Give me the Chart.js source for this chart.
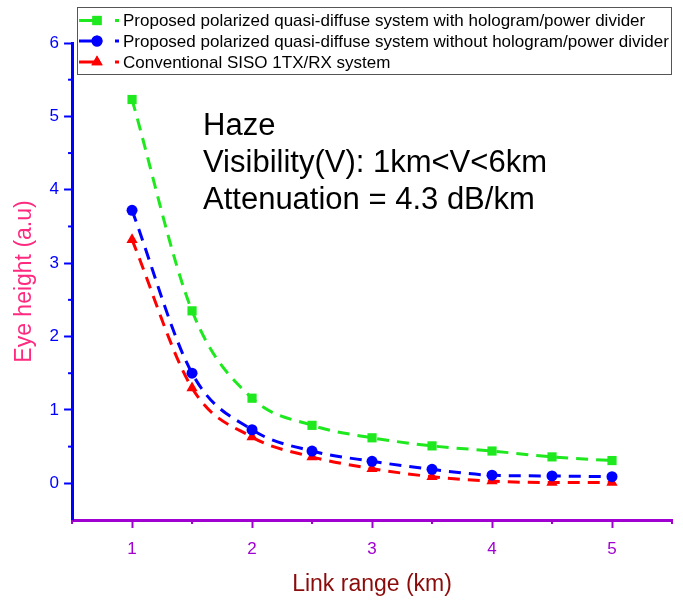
<!DOCTYPE html>
<html>
<head>
<meta charset="utf-8">
<script src="https://cdn.jsdelivr.net/npm/chart.js@4.4.0/dist/chart.umd.min.js"></script>
<style>
  html, body { margin: 0; padding: 0; background: #fff; }
  canvas { display: block; }
</style>
</head>
<body>
<canvas id="chart" width="683" height="602"></canvas>
<script>
  // Link range (km)
  const linkRange = [1, 1.5, 2, 2.5, 3, 3.5, 4, 4.5, 5];

  // Eye height (a.u)
  const withHologram    = [5.23, 2.35, 1.16, 0.79, 0.62, 0.51, 0.44, 0.36, 0.31];
  const withoutHologram = [3.72, 1.50, 0.73, 0.44, 0.30, 0.19, 0.11, 0.10, 0.09];
  const conventional    = [3.32, 1.30, 0.63, 0.36, 0.20, 0.09, 0.03, 0.01, 0.01];

  const seriesLabels = [
    "Proposed polarized quasi-diffuse system with hologram/power divider",
    "Proposed polarized quasi-diffuse system without hologram/power divider",
    "Conventional SISO 1TX/RX system"
  ];

  const noteLines = ["Haze", "Visibility(V): 1km<V<6km", "Attenuation = 4.3 dB/km"];

  const FONT = "Arial, 'Liberation Sans', sans-serif";
  const GREEN = "#1ee81e";
  const BLUE = "#0000ff";
  const RED = "#ff0000";
  const PURPLE = "#a000d0";

  const toXY = (ys) => ys.map((y, i) => ({ x: linkRange[i], y }));

  function series(label, ys, color, pointStyle, radius) {
    return {
      label,
      data: toXY(ys),
      borderColor: color,
      backgroundColor: color,
      borderWidth: 3,
      borderDash: [12, 8],
      cubicInterpolationMode: "monotone",
      pointStyle,
      pointRadius: radius,
      pointBorderWidth: 0,
      fill: false
    };
  }

  const isWhole = (v) => Math.abs(v - Math.round(v)) < 1e-6;

  // short ticks at the half steps
  const minorTicks = {
    id: "minorTicks",
    afterDraw(chart) {
      const { ctx, scales: { x, y } } = chart;
      ctx.save();
      ctx.lineWidth = 2;
      ctx.strokeStyle = PURPLE;
      x.ticks.forEach(t => {
        if (isWhole(t.value)) return;
        const px = x.getPixelForValue(t.value);
        ctx.beginPath(); ctx.moveTo(px, x.top); ctx.lineTo(px, x.top + 4); ctx.stroke();
      });
      ctx.strokeStyle = BLUE;
      y.ticks.forEach(t => {
        if (isWhole(t.value) || t.value < 0) return;
        const py = y.getPixelForValue(t.value);
        ctx.beginPath(); ctx.moveTo(y.right, py); ctx.lineTo(y.right - 4, py); ctx.stroke();
      });
      ctx.restore();
    }
  };

  // boxed legend at the top, overlapping the plot like the original
  const boxLegend = {
    id: "boxLegend",
    afterDraw(chart) {
      const { ctx } = chart;
      const left = 77, top = 7, right = 671, bottom = 74;
      ctx.save();
      ctx.fillStyle = "#fff";
      ctx.fillRect(left, top, right - left, bottom - top);
      ctx.strokeStyle = "#555";
      ctx.lineWidth = 1;
      ctx.strokeRect(left + 0.5, top + 0.5, right - left, bottom - top);
      const rows = [20.5, 41, 62];
      chart.data.datasets.forEach((ds, i) => {
        const cy = rows[i];
        ctx.strokeStyle = ds.borderColor;
        ctx.fillStyle = ds.borderColor;
        ctx.lineWidth = 3;
        ctx.beginPath(); ctx.moveTo(79, cy); ctx.lineTo(98, cy); ctx.stroke();
        Chart.helpers.drawPoint(ctx, { pointStyle: ds.pointStyle, radius: ds.pointRadius, borderWidth: 0 }, 97, cy);
        ctx.fill();
        ctx.fillRect(115, cy - 1.5, 4, 3);
        ctx.fillStyle = "#000";
        ctx.font = "17px " + FONT;
        ctx.textBaseline = "middle";
        ctx.fillText(ds.label, 123, cy + 1);
      });
      ctx.restore();
    }
  };

  const note = {
    id: "note",
    afterDraw(chart) {
      const { ctx } = chart;
      ctx.save();
      ctx.fillStyle = "#000";
      ctx.font = "31px " + FONT;
      ctx.textBaseline = "middle";
      noteLines.forEach((t, i) => ctx.fillText(t, 203, 126 + i * 37));
      ctx.restore();
    }
  };

  new Chart(document.getElementById("chart"), {
    type: "line",
    data: {
      datasets: [
        series(seriesLabels[0], withHologram, GREEN, "rect", 6.5),
        series(seriesLabels[1], withoutHologram, BLUE, "circle", 5.5),
        series(seriesLabels[2], conventional, RED, "triangle", 6.5)
      ]
    },
    options: {
      responsive: false,
      animation: false,
      layout: { padding: { top: 43, right: 8, left: 7, bottom: 0 } },
      plugins: {
        legend: { display: false },
        tooltip: { enabled: false }
      },
      scales: {
        x: {
          type: "linear",
          min: 0.5,
          max: 5.5,
          ticks: {
            stepSize: 0.5,
            autoSkip: false,
            maxRotation: 0,
            color: PURPLE,
            font: { family: FONT, size: 17 },
            padding: 11,
            callback: (v) => isWhole(v) ? String(v) : ""
          },
          grid: {
            drawOnChartArea: false,
            tickLength: 8,
            tickWidth: 2,
            tickColor: (c) => (c.tick && isWhole(c.tick.value)) ? PURPLE : "rgba(0,0,0,0)"
          },
          border: { color: PURPLE, width: 3 },
          title: {
            display: true,
            text: "Link range (km)",
            color: "#8b0a0a",
            font: { family: FONT, size: 23 },
            padding: { top: 0 }
          }
        },
        y: {
          min: -0.5,
          max: 6,
          ticks: {
            stepSize: 0.5,
            autoSkip: false,
            color: BLUE,
            font: { family: FONT, size: 17 },
            padding: 5,
            callback: (v) => (isWhole(v) && v >= 0) ? String(v) : ""
          },
          grid: {
            drawOnChartArea: false,
            tickLength: 8,
            tickWidth: 2,
            tickColor: (c) => (c.tick && isWhole(c.tick.value) && c.tick.value >= 0) ? BLUE : "rgba(0,0,0,0)"
          },
          border: { color: BLUE, width: 3 },
          title: {
            display: true,
            text: "Eye height (a.u)",
            color: "#ff2a80",
            font: { family: FONT, size: 23 },
            padding: { bottom: 6 }
          }
        }
      }
    },
    plugins: [minorTicks, boxLegend, note]
  });
</script>
</body>
</html>
